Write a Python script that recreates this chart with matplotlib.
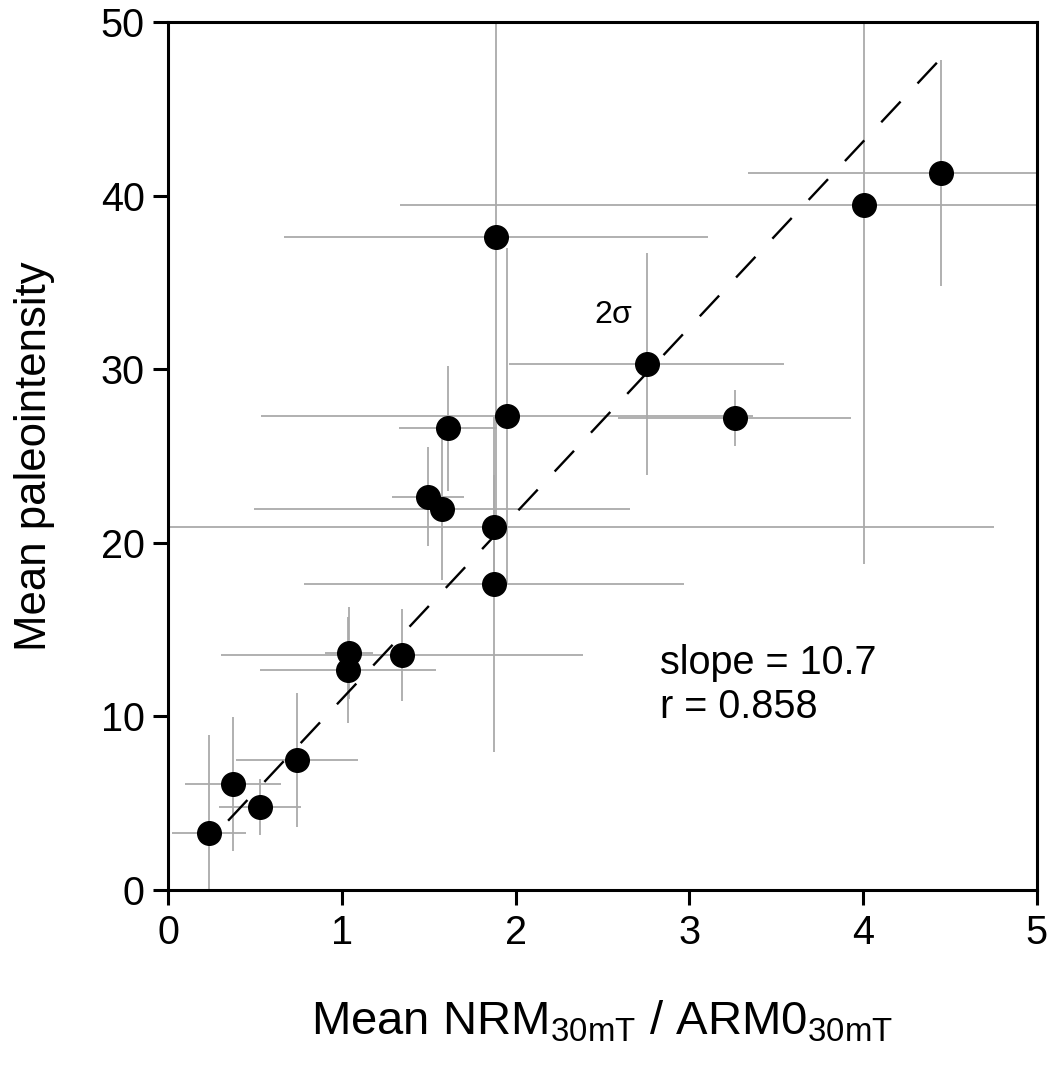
import matplotlib
matplotlib.use("Agg")
import matplotlib.pyplot as plt
import numpy as np

plt.rcParams['font.family'] = ['Liberation Sans', 'DejaVu Sans']
plt.rcParams['mathtext.fontset'] = 'custom'
plt.rcParams['mathtext.rm'] = 'Liberation Sans'
plt.rcParams['mathtext.it'] = 'Liberation Sans'

# NRM/ARM ratio (x) and paleointensity (y) with 2-sigma errors
ratio = [0.236, 0.374, 0.529, 0.742, 1.041, 1.036, 1.346, 1.496, 1.577, 1.611,
         1.876, 1.876, 1.887, 1.950, 2.755, 3.262, 4.005, 4.448]
ratio_err = [0.213, 0.276, 0.236, 0.351, 0.138, 0.506, 1.044, 0.205, 1.082, 0.280,
             2.880, 1.095, 1.220, 1.415, 0.790, 0.670, 2.670, 1.110]
intensity = [3.28, 6.10, 4.78, 7.49, 13.65, 12.67, 13.54, 22.64, 21.95, 26.60,
             20.90, 17.60, 37.60, 27.30, 30.30, 27.19, 39.46, 41.30]
intensity_err = [5.65, 3.86, 1.64, 3.86, 2.65, 3.05, 2.65, 2.85, 4.10, 3.60,
                 3.00, 9.65, 16.70, 9.70, 6.40, 1.60, 20.70, 6.50]

slope = 10.7
intercept = 0.3
r_value = 0.858
fit_x = [0.345, 4.48]

fig = plt.figure(figsize=(10.51, 10.66), dpi=100)
ax = fig.add_axes([0.160, 0.1651, 0.8264, 0.8143])

ax.errorbar(ratio, intensity, xerr=ratio_err, yerr=intensity_err,
            fmt='none', ecolor='#aaaaaa', elinewidth=1.3, capsize=0, zorder=1)
ax.plot(ratio, intensity, 'o', color='black', markersize=17, zorder=3)

fx = np.array(fit_x)
line, = ax.plot(fx, slope * fx + intercept, color='black', lw=1.7, zorder=2)
line.set_dashes((12, 10.5))

ax.set_xlim(0, 5)
ax.set_ylim(0, 50)
ax.set_xticks([0, 1, 2, 3, 4, 5])
ax.set_yticks([0, 10, 20, 30, 40, 50])
ax.tick_params(direction='out', length=11, width=2.2, labelsize=28.5, pad=6)
for s in ax.spines.values():
    s.set_linewidth(2.2)

ax.set_xlabel(r'Mean NRM$_{\mathregular{30mT}}$ / ARM0$_{\mathregular{30mT}}$',
              fontsize=34, labelpad=34)
ax.set_ylabel('Mean paleointensity', fontsize=31.5, labelpad=33)

ax.text(2.45, 33.1, r'2$\sigma$', fontsize=23, ha='left', va='center')
ax.text(2.83, 11.8, f'slope = {slope}\nr = {r_value}', fontsize=28.5,
        ha='left', va='center', linespacing=1.2)

fig.savefig('out.png', dpi=100)
